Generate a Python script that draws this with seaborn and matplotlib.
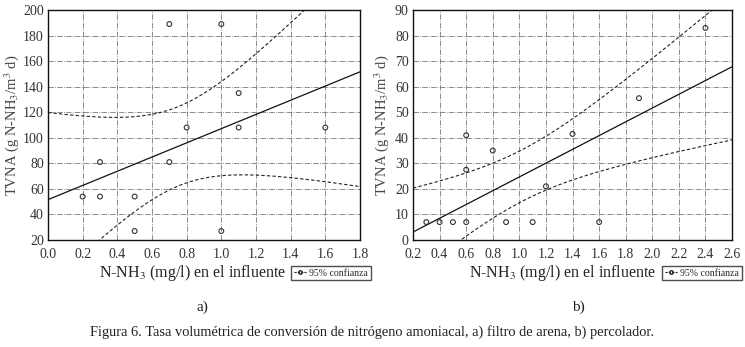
import numpy as np
import pandas as pd
import matplotlib
matplotlib.use("Agg")
import matplotlib.pyplot as plt
from matplotlib.lines import Line2D
import seaborn as sns

# a) filtro de arena
xa = [0.2, 0.3, 0.3, 0.5, 0.5, 0.7, 0.7, 0.8, 1.0, 1.0, 1.1, 1.1, 1.6]
ya = [54, 81, 54, 54, 27, 189, 81, 108, 189, 27, 135, 108, 108]

# b) percolador
xb = [0.3, 0.4, 0.5, 0.6, 0.6, 0.6, 0.8, 0.9, 1.1, 1.2, 1.4, 1.6, 1.9, 2.4]
yb = [7, 7, 7, 41, 27.5, 7, 35, 7, 7, 21, 41.5, 7, 55.5, 83]

xticks_a = np.arange(0.0, 1.81, 0.2)
yticks_a = np.arange(20, 201, 20)
xticks_b = np.arange(0.2, 2.61, 0.2)
yticks_b = np.arange(0, 91, 10)

# t(0.975) for n-2 degrees of freedom
t_crit = {11: 2.201, 12: 2.179}

sns.set_style("white")
plt.rcParams['font.family'] = ['Liberation Serif', 'DejaVu Serif']
plt.rcParams['mathtext.fontset'] = 'stix'

fig = plt.figure(figsize=(7.45, 3.47), dpi=100)
ax1 = fig.add_axes([0.0644, 0.3084, 0.4188, 0.6628])
ax2 = fig.add_axes([0.5544, 0.3084, 0.4282, 0.6628])

def panel(ax, x, y, xticks, yticks, ylab_x):
    x = np.asarray(x, float)
    y = np.asarray(y, float)
    ax.set_xlim(xticks[0], xticks[-1])
    ax.set_ylim(yticks[0], yticks[-1])
    df = pd.DataFrame({'x': x, 'y': y})
    sns.regplot(data=df, x='x', y='y', ax=ax, ci=None, truncate=False,
                scatter=False, line_kws=dict(color='#111111', lw=0.9))
    sns.scatterplot(data=df, x='x', y='y', ax=ax, marker='o', s=12,
                    facecolor='none', edgecolor='#333333', linewidth=0.8, zorder=3)
    # 95% confidence lines for the mean
    n = len(x)
    b, a = np.polyfit(x, y, 1)
    res = y - (a + b * x)
    s = np.sqrt(np.sum(res ** 2) / (n - 2))
    sxx = np.sum((x - x.mean()) ** 2)
    xs = np.linspace(xticks[0], xticks[-1], 200)
    half = t_crit[n - 2] * s * np.sqrt(1 / n + (xs - x.mean()) ** 2 / sxx)
    fit = a + b * xs
    ax.plot(xs, fit + half, ls=(0, (3, 2)), color='#222222', lw=0.8)
    ax.plot(xs, fit - half, ls=(0, (3, 2)), color='#222222', lw=0.8)
    ax.set_xticks(xticks)
    ax.set_yticks(yticks)
    ax.set_xticklabels([f"{v:.1f}" for v in xticks])
    ax.set_yticklabels([f"{v:.0f}" for v in yticks])
    ax.grid(True, ls='-.', color='#777777', lw=0.6)
    ax.tick_params(labelsize=10, direction='in', length=4, width=0.8, colors='#222222',
                   labelcolor='#333333')
    ax.tick_params(axis='x', pad=6)
    ax.tick_params(axis='y', pad=3)
    for sp in ax.spines.values():
        sp.set_color('#111111')
        sp.set_linewidth(1.0)
    ax.set_xlabel('')
    ax.set_ylabel(r'TVNA (g N-NH$_3$/m$^3$ d)', fontsize=10.5, color='#444444')
    ax.yaxis.set_label_coords(ylab_x, 0.5)

panel(ax1, xa, ya, xticks_a, yticks_a, -0.085)
panel(ax2, xb, yb, xticks_b, yticks_b, -0.068)

xl = r'N-NH$_3$ (mg/l) en el influente'
fig.text(193 / 745, 1 - 273 / 347, xl, ha='center', va='center', fontsize=11.5, color='#222222')
fig.text(563 / 745, 1 - 273 / 347, xl, ha='center', va='center', fontsize=11.5, color='#222222')

handle = Line2D([0], [0], ls=(0, (2, 1)), color='#222222', lw=0.8, marker='o',
                markersize=2.5, markerfacecolor='none')
for cx in (331 / 745, 702 / 745):
    fig.legend([handle], ['95% confianza'], loc='center', bbox_to_anchor=(cx, 1 - 273 / 347),
               fontsize=7, frameon=True, fancybox=False, edgecolor='#222222',
               handlelength=1.2, handletextpad=0.3, borderpad=0.3, borderaxespad=0)

fig.text(202 / 745, 1 - 307 / 347, 'a)', ha='center', va='center', fontsize=11, color='#222222')
fig.text(578 / 745, 1 - 307 / 347, 'b)', ha='center', va='center', fontsize=11, color='#222222')
fig.text(372 / 745, 1 - 332 / 347,
         'Figura 6. Tasa volumétrica de conversión de nitrógeno amoniacal, a) filtro de arena, b) percolador.',
         ha='center', va='center', fontsize=10.4, color='#222222')

fig.savefig('out.png', dpi=100, facecolor='white')
